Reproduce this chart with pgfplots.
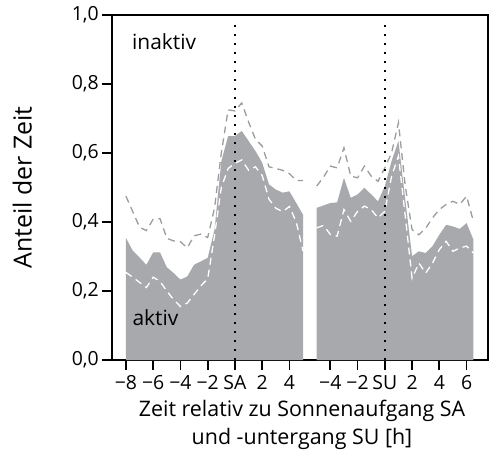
\documentclass[border=0pt]{standalone}
\usepackage{fontspec}
\setmainfont{Open Sans}
\usepackage{pgfplots}
\pgfplotsset{compat=1.18}
\definecolor{fillgray}{HTML}{A7A9AC}
\definecolor{dashgray}{HTML}{9C9C9C}
\begin{document}
\begin{tikzpicture}[font=\fontsize{21}{26}\selectfont]
\begin{axis}[
  scale only axis,
  width=375.4bp, height=345bp,
  xmin=-9.0, xmax=18.55,
  ymin=0, ymax=1,
  axis line style={line width=1.8bp},
  every tick/.style={line width=1.8bp, black},
  major tick length=10bp,
  tick align=outside,
  xtick pos=bottom, ytick pos=left,
  xtick={-8,-6,-4,-2,0,2,4,7,9,11,13,15,17},
  xticklabels={−8,−6,−4,−2,SA,2,4,−4,−2,SU,2,4,6},
  ytick={0,0.2,0.4,0.6,0.8,1},
  tick label style={font=\fontsize{19.5}{23}\selectfont},
  yticklabel style={/pgf/number format/.cd, use comma, fixed, fixed zerofill, precision=1, assume math mode=true},
  xticklabel style={inner sep=2pt, yshift=-3bp},
  ylabel={Anteil der Zeit},
  ylabel style={at={(axis description cs:-0.24,0.5)}, anchor=center, rotate=0, font=\fontsize{25}{30}\selectfont},
  xlabel={Zeit relativ zu Sonnenaufgang SA\\und -untergang SU [h]},
  xlabel style={align=center, at={(axis description cs:0.5,0)}, anchor=north, yshift=-37bp, xshift=2bp, font=\fontsize{21.5}{28}\selectfont},
  clip=false,
]
% Panel 1 area (SA)
\addplot[fill=fillgray, draw=none] coordinates {
(-8,0.354) (-7.5,0.317) (-7,0.297) (-6.5,0.276) (-6,0.312) (-5.5,0.312) (-5,0.269)
(-4.5,0.252) (-4,0.233) (-3.5,0.242) (-3,0.276) (-2.5,0.286) (-2,0.296) (-1.5,0.378)
(-1,0.576) (-0.5,0.649) (0,0.649) (0.5,0.664) (1,0.635) (1.5,0.606) (2,0.572)
(2.5,0.509) (3,0.494) (3.5,0.485) (4,0.489) (4.5,0.455) (5,0.421)
} \closedcycle;
% Panel 2 area (SU)
\addplot[fill=fillgray, draw=none] coordinates {
(6,0.441) (6.5,0.448) (7,0.455) (7.5,0.457) (8,0.528) (8.5,0.47) (9,0.48) (9.5,0.499)
(10,0.48) (10.5,0.46) (11,0.504) (11.5,0.577) (12,0.635) (12.5,0.465) (13,0.301)
(13.5,0.315) (14,0.31) (14.5,0.33) (15,0.363) (15.5,0.392) (16,0.387) (16.5,0.38)
(17,0.397) (17.5,0.349)
} \closedcycle;
% upper dashed
\addplot[dashgray, line width=1.3bp, dash pattern=on 7bp off 5bp] coordinates {
(-8,0.475) (-7.5,0.43) (-7,0.385) (-6.5,0.375) (-6,0.408) (-5.5,0.41) (-5,0.353)
(-4.5,0.345) (-4,0.343) (-3.5,0.325) (-3,0.36) (-2.5,0.365) (-2,0.355) (-1.5,0.44)
(-1,0.60) (-0.5,0.725) (0,0.722) (0.5,0.745) (1,0.69) (1.5,0.64) (2,0.62)
(2.5,0.56) (3,0.555) (3.5,0.55) (4,0.54) (4.5,0.52) (5,0.52)
};
\addplot[dashgray, line width=1.3bp, dash pattern=on 7bp off 5bp] coordinates {
(6,0.504) (6.5,0.53) (7,0.562) (7.5,0.557) (8,0.615) (8.5,0.533) (9,0.528) (9.5,0.562)
(10,0.533) (10.5,0.518) (11,0.557) (11.5,0.601) (12,0.688) (12.5,0.504) (13,0.378)
(13.5,0.363) (14,0.382) (14.5,0.412) (15,0.436) (15.5,0.451) (16,0.46) (16.5,0.451)
(17,0.475) (17.5,0.402)
};
% lower dashed (white)
\addplot[white, line width=1.3bp, dash pattern=on 7bp off 5bp] coordinates {
(-8,0.254) (-7.5,0.24) (-7,0.225) (-6.5,0.21) (-6,0.24) (-5.5,0.228) (-5,0.20)
(-4.5,0.175) (-4,0.155) (-3.5,0.165) (-3,0.19) (-2.5,0.215) (-2,0.235) (-1.5,0.36)
(-1,0.50) (-0.5,0.555) (0,0.57) (0.5,0.58) (1,0.55) (1.5,0.56) (2,0.535)
(2.5,0.466) (3,0.44) (3.5,0.43) (4,0.445) (4.5,0.40) (5,0.315)
};
\addplot[white, line width=1.3bp, dash pattern=on 7bp off 5bp] coordinates {
(6,0.383) (6.5,0.39) (7,0.364) (7.5,0.359) (8,0.436) (8.5,0.402) (9,0.431) (9.5,0.446)
(10,0.436) (10.5,0.412) (11,0.431) (11.5,0.533) (12,0.591) (12.5,0.417) (13,0.237)
(13.5,0.281) (14,0.252) (14.5,0.281) (15,0.32) (15.5,0.344) (16,0.315) (16.5,0.325)
(17,0.33) (17.5,0.31)
};
% dotted reference lines
\addplot[black, line width=2bp, dash pattern=on 2bp off 7bp] coordinates {(0,0) (0,0.985)};
\addplot[black, line width=2bp, dash pattern=on 2bp off 7bp] coordinates {(11,0) (11,0.985)};
\node at (axis cs:-5.2,0.924) {inaktiv};
\node at (axis cs:-5.83,0.122) {aktiv};
\end{axis}
\pgfresetboundingbox
\path (-112.3bp,-110bp) rectangle (376.7bp,360bp);
\end{tikzpicture}
\end{document}
